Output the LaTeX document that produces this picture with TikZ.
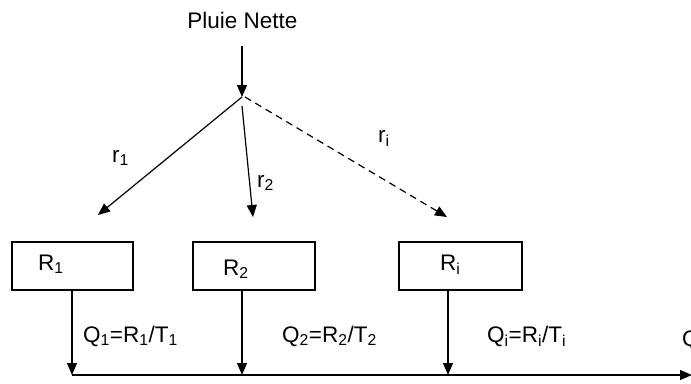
\documentclass[tikz,border=0pt]{standalone}
\usepackage{fontspec}
\setmainfont{Liberation Sans}
\usetikzlibrary{arrows.meta}
\begin{document}
\begin{tikzpicture}[x=1pt,y=-1pt,
  lbl/.style={inner sep=0pt,font=\fontsize{22.5}{26}\selectfont},
  box/.style={draw,line width=1.3pt,minimum width=#1,minimum height=48pt,inner sep=0pt},
  conn/.style={line width=1.2pt,-{Triangle[length=12pt,width=10pt]}},
  dconn/.style={conn,dash pattern=on 7pt off 5pt}]
\clip (0,0) rectangle (691,383);
\useasboundingbox (0,0) rectangle (691,383);
% top
\node[lbl,anchor=base] (pn) at (242.5,28) {Pluie Nette};
\coordinate (top) at (242,46);
\coordinate (j) at (242,97);
\draw[conn] (top) -- (j);
% boxes
\node[box=121pt] (R1) at (72.5,266) {};
\node[box=122pt] (R2) at (254,266) {};
\node[box=123pt] (Ri) at (460.5,266) {};
\node[lbl,anchor=base west] (R1t) at (38,270) {R\textsubscript{1}};
\node[lbl,anchor=base west] (R2t) at (223,275) {R\textsubscript{2}};
\node[lbl,anchor=base west] (Rit) at (440,270) {R\textsubscript{i}};
% tips of split arrows
\coordinate (t1) at (98,215);
\coordinate (j2) at (242,106);
\coordinate (t2) at (253,217);
\coordinate (ji) at (245,97);
\coordinate (ti) at (447,217);
\draw[conn] (j) -- (t1);
\draw[conn] (j2) -- (t2);
\draw[dconn] (ji) -- (ti);
\node[lbl,anchor=base west] (r1) at (112,162) {r\textsubscript{1}};
\node[lbl,anchor=base west] (r2) at (257,187) {r\textsubscript{2}};
\node[lbl,anchor=base west] (ri) at (378,142) {r\textsubscript{i}};
% bottom line
\coordinate (b1) at (72,375);
\coordinate (b2) at (242,375);
\coordinate (bi) at (448,375);
\coordinate (bend) at (692,375);
\draw[conn] (b1 |- R1.south) -- (b1);
\draw[conn] (b2 |- R2.south) -- (b2);
\draw[conn] (bi |- Ri.south) -- (bi);
\draw[conn] (b1) -- (bend);
\node[lbl,anchor=base west] (q1) at (83,342) {Q\textsubscript{1}=R\textsubscript{1}/T\textsubscript{1}};
\node[lbl,anchor=base west] (q2) at (282,342) {Q\textsubscript{2}=R\textsubscript{2}/T\textsubscript{2}};
\node[lbl,anchor=base west] (qi) at (487,342) {Q\textsubscript{i}=R\textsubscript{i}/T\textsubscript{i}};
\node[lbl,anchor=base west] (q) at (682,346) {Q};
\end{tikzpicture}
\end{document}
